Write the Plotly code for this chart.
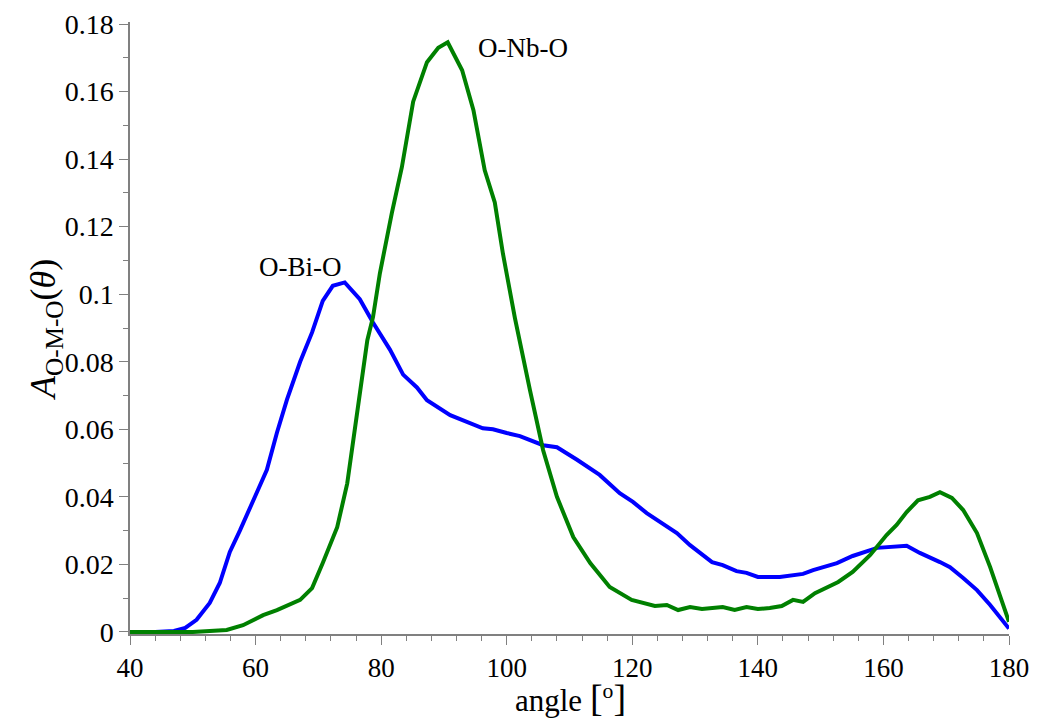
import plotly.graph_objects as go

# O-Bi-O (blue)
bi_angle = [40, 44, 47, 48.8, 50.6, 52.7, 54.3, 55.9, 57.5, 59.6, 61.8, 63.4, 65.0, 67.1, 69.0, 70.7,
            72.3, 74.2, 76.6, 78.7, 81.4, 83.5, 85.7, 87.3, 91.0, 96.2, 97.8, 100.0, 102.1, 105.8,
            108.0, 111.2, 114.8, 118.0, 120.1, 122.3, 127.1, 129.2, 132.7, 134.4, 136.6, 138.2,
            140.0, 143.5, 147.2, 148.8, 152.6, 155.1, 159.0, 163.7, 165.8, 169.0, 170.6, 172.7,
            174.9, 177.0, 180.0]
bi_values = [0.0, 0.0, 0.0003, 0.0012, 0.0036, 0.0086, 0.0145, 0.0237, 0.030, 0.039, 0.048, 0.059,
             0.0688, 0.080, 0.0887, 0.098, 0.1025, 0.1035, 0.0985, 0.0916, 0.0836, 0.0762, 0.0724,
             0.0686, 0.0642, 0.0603, 0.0600, 0.0589, 0.0580, 0.0553, 0.0547, 0.0510, 0.0465,
             0.0411, 0.0385, 0.0352, 0.0293, 0.0257, 0.0207, 0.0198, 0.0180, 0.0175, 0.0163,
             0.0163, 0.0172, 0.0183, 0.0204, 0.0225, 0.0249, 0.0255, 0.0234, 0.0207, 0.0192,
             0.0160, 0.0124, 0.0080, 0.0010]

# O-Nb-O (green)
nb_angle = [40, 50, 55.4, 58.0, 61.2, 63.4, 67.1, 69.0, 70.7, 71.9, 73.0, 74.6, 76.2, 77.8, 78.7,
            79.8, 81.7, 83.3, 85.1, 87.3, 89.1, 90.6, 92.9, 94.7, 96.5, 98.1, 99.4, 101.3, 103.7,
            105.8, 108.0, 110.6, 113.3, 116.4, 119.9, 123.6, 125.5, 127.3, 129.2, 131.1, 134.4,
            136.3, 138.2, 140.0, 141.9, 143.8, 145.6, 147.2, 149.1, 152.8, 155.1, 157.9, 160.5,
            162.1, 163.7, 165.5, 167.4, 169.0, 170.9, 172.7, 174.9, 177.0, 180.0]
nb_values = [0.0, 0.0, 0.0006, 0.002, 0.005, 0.0065, 0.0095, 0.013, 0.0204, 0.0263, 0.031, 0.044,
             0.0648, 0.0864, 0.0932, 0.1062, 0.124, 0.1376, 0.157, 0.1687, 0.173, 0.1746, 0.1663,
             0.1545, 0.1367, 0.1272, 0.112, 0.093, 0.0716, 0.0538, 0.040, 0.0281, 0.0204, 0.0133,
             0.0095, 0.0077, 0.0080, 0.0065, 0.0074, 0.0068, 0.0074, 0.0065, 0.0074, 0.0068,
             0.0071, 0.0077, 0.0095, 0.0089, 0.0115, 0.0148, 0.0178, 0.0228, 0.0287, 0.0317,
             0.0355, 0.0390, 0.0400, 0.0414, 0.0397, 0.0361, 0.0293, 0.0192, 0.0030]

x_ticks = [40, 60, 80, 100, 120, 140, 160, 180]
y_ticks = [0, 0.02, 0.04, 0.06, 0.08, 0.1, 0.12, 0.14, 0.16, 0.18]
y_ticktext = ["0", "0.02", "0.04", "0.06", "0.08", "0.1", "0.12", "0.14", "0.16", "0.18"]

labels = [("O-Bi-O", 67.1, 0.108), ("O-Nb-O", 102.6, 0.1728)]

x_title = ("angle <span style='font-size:38px'>[</span><sup>o</sup>"
           "<span style='font-size:38px'>]</span>")
y_title = "<i>A</i><sub>O-M-O</sub>(<i>θ</i>)"

FONT = "Liberation Serif"

W, H = 1037, 724
ML, MR, MT, MB = 130, 28, 22, 90

fig = go.Figure()
fig.add_trace(go.Scatter(x=bi_angle, y=bi_values, mode="lines",
                         line=dict(color="#0000FF", width=4), name="O-Bi-O"))
fig.add_trace(go.Scatter(x=nb_angle, y=nb_values, mode="lines",
                         line=dict(color="#008000", width=4), name="O-Nb-O"))

for text, xx, yy in labels:
    fig.add_annotation(x=xx, y=yy, text=text, showarrow=False,
                       font=dict(family=FONT, size=27, color="black"))

# axis titles as paper-positioned annotations
pw = W - ML - MR
ph = H - MT - MB
fig.add_annotation(xref="paper", yref="paper", x=(570 - ML) / pw, y=-(698 - (H - MB)) / ph,
                   text=x_title, showarrow=False, xanchor="center", yanchor="middle",
                   font=dict(family=FONT, size=31, color="black"))
fig.add_annotation(xref="paper", yref="paper", x=-(ML - 45) / pw, y=(H - MB - 330) / ph,
                   text=y_title, showarrow=False, textangle=-90, xanchor="center", yanchor="middle",
                   font=dict(family=FONT, size=36, color="black"))

fig.update_layout(
    width=W, height=H,
    margin=dict(l=ML, r=MR, t=MT, b=MB, autoexpand=False),
    paper_bgcolor="white", plot_bgcolor="white",
    showlegend=False,
    font=dict(family=FONT, color="black"),
)
fig.update_xaxes(
    range=[40, 180], tickvals=x_ticks, ticks="outside", ticklen=9, tickwidth=1,
    tickcolor="#808080", showline=True, linecolor="#808080", linewidth=1.5,
    showgrid=False, zeroline=False, tickfont=dict(family=FONT, size=27), automargin=False,
    minor=dict(dtick=4, tick0=40, ticks="outside", ticklen=5, tickcolor="#808080", showgrid=False),
)
fig.update_yaxes(
    range=[-0.0006, 0.1806], tickvals=y_ticks, ticktext=y_ticktext, ticks="outside", ticklen=9,
    tickwidth=1, tickcolor="#808080", showline=True, linecolor="#808080", linewidth=1.5,
    showgrid=False, zeroline=False, tickfont=dict(family=FONT, size=28), automargin=False,
    minor=dict(dtick=0.01, tick0=0, ticks="outside", ticklen=5, tickcolor="#808080", showgrid=False),
)

fig.write_html("out.html", config={"displayModeBar": False},
               post_script="document.body.style.margin='0px';document.body.style.overflow='hidden';")
